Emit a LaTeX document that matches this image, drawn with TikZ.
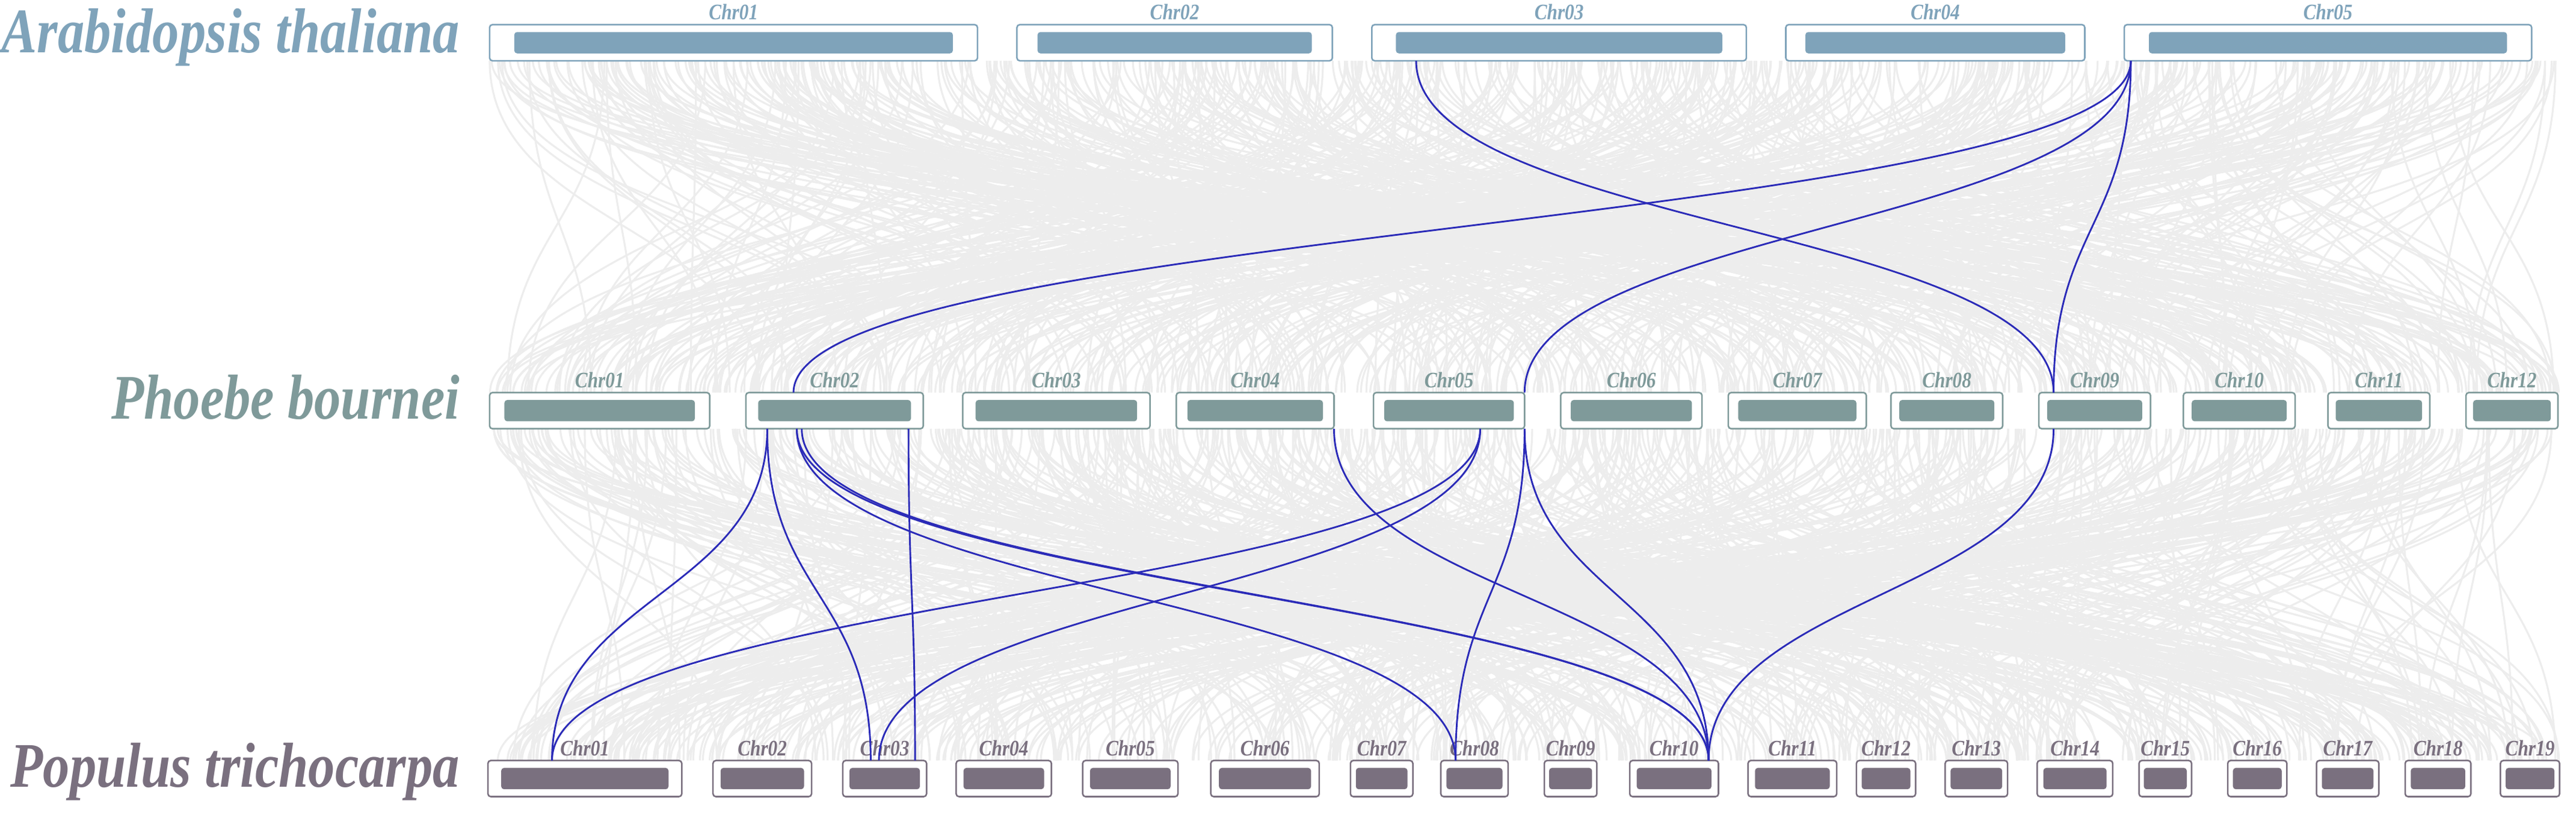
\documentclass[tikz,border=0pt]{standalone}
\usetikzlibrary{calc}
\usepackage{fontspec}
\setmainfont{Liberation Serif}
\definecolor{cA}{HTML}{7FA3BA}
\definecolor{cP}{HTML}{7F9A9A}
\definecolor{cT}{HTML}{7A707F}
\definecolor{gl}{HTML}{EDEDED}
\definecolor{bl}{HTML}{2B2BB8}
\begin{document}
\begin{tikzpicture}[x=0.03cm,y=-0.03cm,
 title/.style={anchor=base east,font=\fontsize{33}{33}\selectfont\bfseries\itshape,xscale=0.84,inner sep=0},
 chrlab/.style={font=\fontsize{11.5}{11.5}\selectfont\bfseries\itshape,xscale=0.85,inner sep=0,anchor=base},
 grey/.style={gl,line width=1pt},
 link/.style={bl,line width=0.9pt}]
\useasboundingbox (0,0) rectangle (1568,496);
% grey background links
\pgfmathsetseed{7}
\foreach \i in {1,...,700}{
  \pgfmathsetmacro{\xa}{298+rnd*1260}
  \pgfmathsetmacro{\xb}{298+rnd*1260}
  \draw[grey] (\xa,37) .. controls (\xa,138) and (\xb,138) .. (\xb,239);
}
\foreach \i in {1,...,700}{
  \pgfmathsetmacro{\xa}{298+rnd*1260}
  \pgfmathsetmacro{\xb}{298+rnd*1260}
  \draw[grey] (\xa,261) .. controls (\xa,362) and (\xb,362) .. (\xb,463);
}
% chromosomes: name/x1/x2/y1/y2/color/label
\foreach \n/\a/\b/\ya/\yb/\c/\l in {
 A1/298/595/15/37/cA/Chr01, A2/619/811/15/37/cA/Chr02, A3/835/1063/15/37/cA/Chr03, A4/1087/1269/15/37/cA/Chr04, A5/1293/1541/15/37/cA/Chr05,
 P1/298/432/239/261/cP/Chr01, P2/454/562/239/261/cP/Chr02, P3/586/700/239/261/cP/Chr03, P4/716/812/239/261/cP/Chr04, P5/836/928/239/261/cP/Chr05, P6/950/1036/239/261/cP/Chr06, P7/1052/1136/239/261/cP/Chr07, P8/1151/1219/239/261/cP/Chr08, P9/1241/1309/239/261/cP/Chr09, P10/1329/1397/239/261/cP/Chr10, P11/1417/1479/239/261/cP/Chr11, P12/1501/1557/239/261/cP/Chr12,
 T1/297/415/463/485/cT/Chr01, T2/434/494/463/485/cT/Chr02, T3/513/564/463/485/cT/Chr03, T4/582/640/463/485/cT/Chr04, T5/659/717/463/485/cT/Chr05, T6/737/803/463/485/cT/Chr06, T7/822/860/463/485/cT/Chr07, T8/877/918/463/485/cT/Chr08, T9/940/972/463/485/cT/Chr09, T10/992/1046/463/485/cT/Chr10, T11/1064/1118/463/485/cT/Chr11, T12/1130/1166/463/485/cT/Chr12, T13/1184/1222/463/485/cT/Chr13, T14/1240/1286/463/485/cT/Chr14, T15/1302/1334/463/485/cT/Chr15, T16/1356/1392/463/485/cT/Chr16, T17/1410/1448/463/485/cT/Chr17, T18/1464/1504/463/485/cT/Chr18, T19/1522/1558/463/485/cT/Chr19}{
  \draw[\c,fill=white,line width=0.8pt,rounded corners=1.5] (\a,\ya) rectangle (\b,\yb);
  \pgfmathsetmacro{\ia}{\a+min(14,(\b-\a)*0.06)+1}
  \pgfmathsetmacro{\ib}{\b-min(14,(\b-\a)*0.06)-1}
  \fill[\c,rounded corners=1.5] (\ia,\ya+4.5) rectangle (\ib,\yb-4.5);
  \node[chrlab,text=\c] (\n) at ({(\a+\b)/2},\ya-3) {\l};
}
% titles
\node[title,text=cA] (tA) at (280,32) {Arabidopsis thaliana};
\node[title,text=cP] (tP) at (280,255) {Phoebe bournei};
\node[title,text=cT] (tT) at (280,479) {Populus trichocarpa};
% link endpoints
\coordinate (a3) at (862,37); \coordinate (a5) at (1297,37);
\coordinate (p9t) at (1250,239); \coordinate (p2t) at (483,239); \coordinate (p5t) at (928,239);
\coordinate (p2a) at (467,261); \coordinate (p2b) at (553,261); \coordinate (p2c) at (485,261); \coordinate (p2d) at (488,261);
\coordinate (p4b) at (812,261); \coordinate (p5a) at (901,261); \coordinate (p5b) at (928,261); \coordinate (p9b) at (1250,261);
\coordinate (t1) at (336,463); \coordinate (t3a) at (530,463); \coordinate (t3b) at (535,463); \coordinate (t3c) at (557,463);
\coordinate (t8) at (886,463); \coordinate (t10) at (1040,463);
\def\lk#1#2{\draw[link] (#1) .. controls ($(#1)+(0,101)$) and ($(#2)-(0,101)$) .. (#2);}
\lk{a3}{p9t}\lk{a5}{p2t}\lk{a5}{p5t}\lk{a5}{p9t}
\lk{p2a}{t1}\lk{p2a}{t3a}\lk{p2b}{t3c}\lk{p2c}{t8}\lk{p2c}{t10}\lk{p2d}{t10}
\lk{p4b}{t10}\lk{p5a}{t1}\lk{p5a}{t3b}\lk{p5b}{t8}\lk{p5b}{t10}\lk{p9b}{t10}
\end{tikzpicture}
\end{document}
